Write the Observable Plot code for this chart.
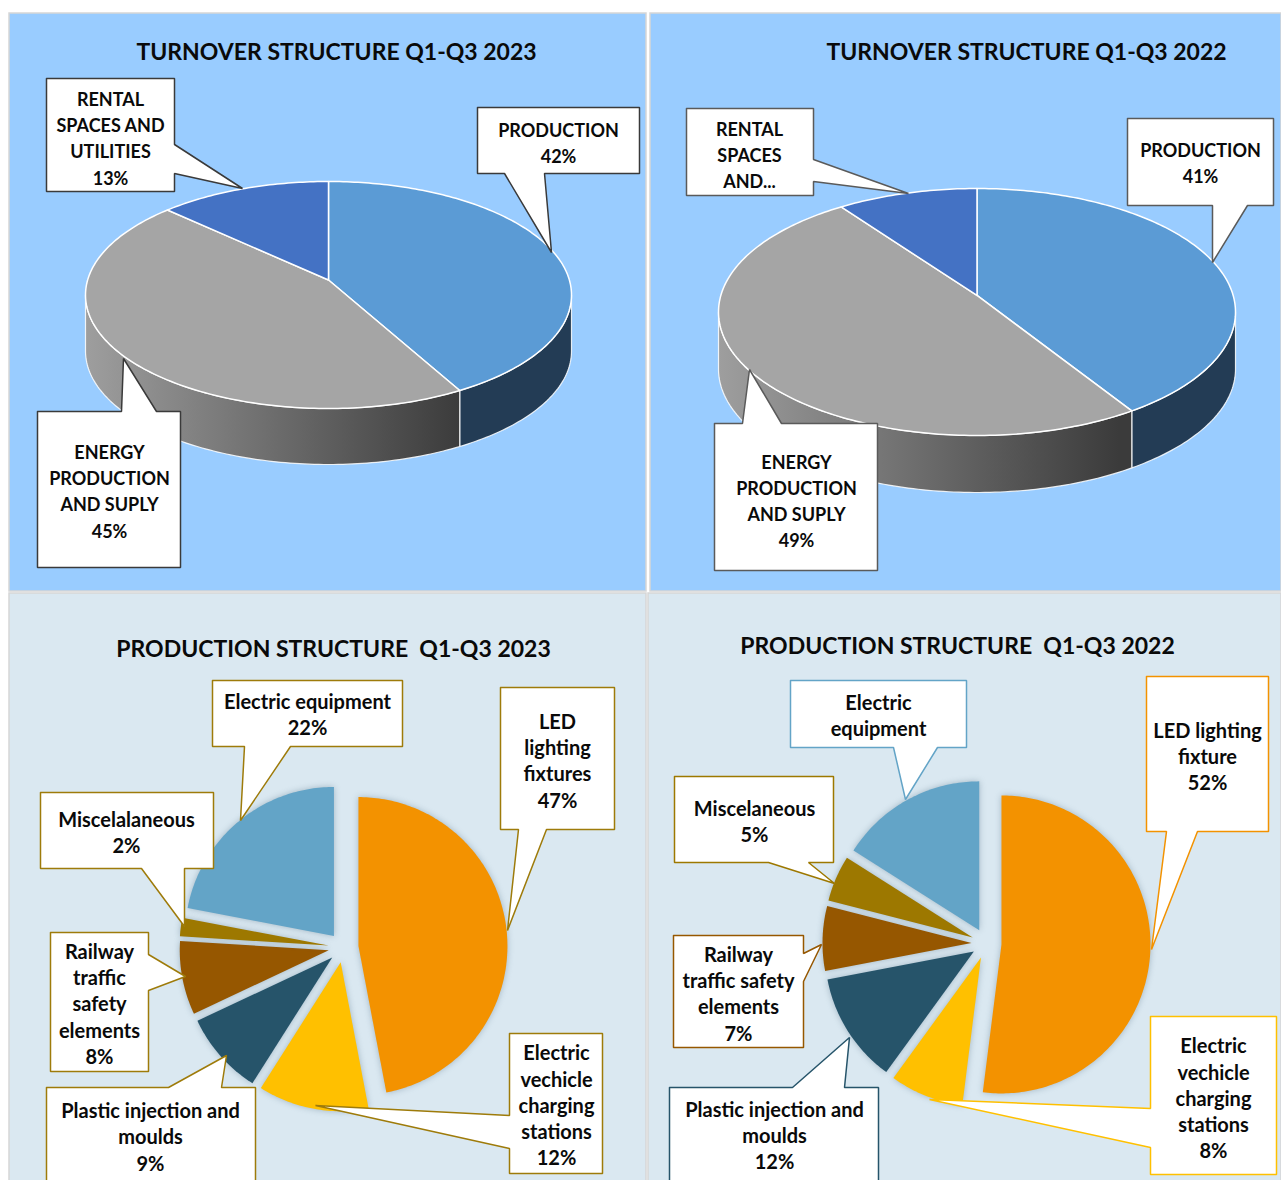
<!DOCTYPE html>
<html>
<head>
<meta charset="utf-8">
<script src="https://cdn.jsdelivr.net/npm/d3@7"></script>
<script src="https://cdn.jsdelivr.net/npm/@observablehq/plot@0.6"></script>
<style>
  html, body { margin: 0; padding: 0; background: #ffffff; }
  #chart svg { display: block; overflow: hidden; }
</style>
</head>
<body>
<div id="chart"></div>
<script>
// ---------------- DATA ----------------
const turnoverCategories = ["PRODUCTION", "ENERGY PRODUCTION AND SUPLY", "RENTAL SPACES AND UTILITIES"];
const turnoverShares2023 = [42, 45, 13];
const turnoverShares2022 = [41, 49, 10];
const turnoverLabelNames2023 = ["PRODUCTION", "ENERGY\nPRODUCTION\nAND SUPLY", "RENTAL\nSPACES AND\nUTILITIES"];
const turnoverLabelNames2022 = ["PRODUCTION", "ENERGY\nPRODUCTION\nAND SUPLY", "RENTAL\nSPACES\nAND..."];
const turnoverShowPct2023 = [true, true, true];
const turnoverShowPct2022 = [true, true, false];
const turnoverColors = ["#5B9BD5", "#A5A5A5", "#4472C4"];

const productionCategories = ["LED lighting fixtures", "Electric vechicle charging stations", "Plastic injection and moulds", "Railway traffic safety elements", "Miscelaneous", "Electric equipment"];
const productionShares2023 = [47, 12, 9, 8, 2, 22];
const productionShares2022 = [52, 8, 12, 7, 5, 16];
const productionLabelNames2023 = ["LED\nlighting\nfixtures", "Electric\nvechicle\ncharging\nstations", "Plastic injection and\nmoulds", "Railway\ntraffic\nsafety\nelements", "Miscelalaneous", "Electric equipment"];
const productionLabelNames2022 = ["LED lighting\nfixture", "Electric\nvechicle\ncharging\nstations", "Plastic injection and\nmoulds", "Railway\ntraffic safety\nelements", "Miscelaneous", "Electric\nequipment"];
const productionShowPct2023 = [true, true, true, true, true, true];
const productionShowPct2022 = [true, true, true, true, true, false];
const productionColors = ["#F39200", "#FFC000", "#26546A", "#965700", "#9D7800", "#63A4C7"];

const chartTitles = ["TURNOVER STRUCTURE Q1-Q3 2023", "TURNOVER STRUCTURE Q1-Q3 2022", "PRODUCTION STRUCTURE  Q1-Q3 2023", "PRODUCTION STRUCTURE  Q1-Q3 2022"];

// ---------------- LAYOUT ----------------
const W = 1281, H = 1180;
const panels = [
  {x1: 9, x2: 646, y1: 13, y2: 591, fill: "#99CCFF"},
  {x1: 650, x2: 1281, y1: 13, y2: 591, fill: "#99CCFF"},
  {x1: 9, x2: 646, y1: 593, y2: 1182, fill: "#DAE8F1"},
  {x1: 648, x2: 1281, y1: 593, y2: 1182, fill: "#DAE8F1"}
];
const titlePos = [[336, 52], [1026, 52], [333, 649], [957, 646]];

// 3D pies: center, radii, perspective shift, depth, side colours
const pie3DLayout = [
  {cx: 328, cy: 294.5, rx: 243, ry: 113.5, beta: -0.132, depth: 56, gid: "gradTL", side: ["#233C55", "url(#gradTL)", "#2F5597"]},
  {cx: 976.5, cy: 311.5, rx: 258.5, ry: 123.5, beta: -0.134, depth: 57, gid: "gradTR", side: ["#233C55", "url(#gradTR)", "#2F5597"]}
];
// 2D exploded pies
const pie2DLayout = [
  {cx: 343, cy: 947, r: 149, explode: 15},
  {cx: 986, cy: 943, r: 149, explode: 15}
];

// callouts: box [x1,y1,x2,y2], wedge side + base positions + tip, text centre
const calloutsTL = [
  {box: [477, 107, 639, 173], side: "bottom", a: 504, b: 544, tip: [551, 252], tc: [558, 141.5]},
  {box: [37, 411, 180, 567], side: "top", a: 121, b: 156, tip: [123, 358], tc: [109, 489.5]},
  {box: [46, 78, 174, 191], side: "right", a: 144, b: 173, tip: [242, 188], tc: [110, 136.5]}
];
const calloutsTR = [
  {box: [1127, 118, 1273, 205], side: "bottom", a: 1212, b: 1247, tip: [1212, 262], tc: [1200, 161.5]},
  {box: [714, 423, 877, 570], side: "top", a: 742, b: 781, tip: [749, 369], tc: [796, 499]},
  {box: [686, 108, 813, 195], side: "right", a: 159, b: 181, tip: [908, 193], tc: [749, 153]}
];
const calloutsBL = [
  {box: [500, 687, 614, 829], side: "bottom", a: 518, b: 546, tip: [507, 930], tc: [557, 759.5]},
  {box: [509, 1033, 602, 1173], side: "left", a: 1115, b: 1148, tip: [315, 1105], tc: [556, 1104]},
  {box: [46, 1087, 255, 1186], side: "top", a: 168, b: 221, tip: [226, 1055], tc: [150, 1135.5]},
  {box: [50, 932, 148, 1071], side: "right", a: 954, b: 990, tip: [185, 976], tc: [99, 1002.5]},
  {box: [40, 792, 213, 868], side: "bottom", a: 141, b: 184, tip: [184, 926], tc: [126, 831.5]},
  {box: [212, 680, 402, 746], side: "bottom", a: 244, b: 290, tip: [240, 820], tc: [307, 713.5]}
];
const calloutsBR = [
  {box: [1146, 676, 1268, 831], side: "bottom", a: 1166, b: 1197, tip: [1151, 949], tc: [1207, 755]},
  {box: [1150, 1016, 1276, 1174], side: "left", a: 1108, b: 1147, tip: [929, 1099], tc: [1213, 1097]},
  {box: [669, 1087, 878, 1186], side: "top", a: 792, b: 844, tip: [849, 1037], tc: [774, 1134]},
  {box: [673, 935, 803, 1047], side: "right", a: 953, b: 981, tip: [821, 944], tc: [738, 992.5]},
  {box: [674, 776, 833, 862], side: "bottom", a: 768, b: 808, tip: [834, 883], tc: [754, 820]},
  {box: [790, 680, 966, 747], side: "bottom", a: 893, b: 937, tip: [905, 799], tc: [878, 714.5]}
];
const strokeTL = "#3A3A3A", strokeTR = "#5A5A5A", strokeBL = "#9E7B0A";
const strokeBR = ["#F39200", "#FFC000", "#26546A", "#965700", "#9D7800", "#63A4C7"];

// ---------------- GEOMETRY HELPERS ----------------
const TAU = Math.PI * 2;
function sliceAngles(values) {
  const total = d3.sum(values);
  let acc = 0;
  return values.map(v => { const a0 = acc / total * TAU; acc += v; return [a0, acc / total * TAU]; });
}
function samples(a0, a1) {
  const n = Math.max(2, Math.ceil((a1 - a0) / (Math.PI / 180)));
  return d3.range(n + 1).map(i => a0 + (a1 - a0) * i / n);
}
function project3D(L, t) {
  const u = Math.sin(t), v = -Math.cos(t);
  const g = 1 / Math.sqrt(1 - L.beta * L.beta);
  const d = 1 + L.beta * v;
  return {x: L.cx + L.rx * u / (g * d), y: L.cy + L.ry * (v + L.beta) / d};
}
function pie3D(values, colors, L) {
  const ang = sliceAngles(values);
  const apex = {x: L.cx, y: L.cy + L.ry * L.beta};
  const t1 = Math.acos(L.beta), t2 = TAU - t1;
  const tops = [], walls = [];
  ang.forEach(([a0, a1], i) => {
    const pts = [apex, ...samples(a0, a1).map(t => project3D(L, t)), apex];
    tops.push({pts, fill: colors[i]});
    const s = Math.max(a0, t1), e = Math.min(a1, t2);
    if (e > s) {
      const top = samples(s, e).map(t => project3D(L, t));
      const bottom = top.map(p => ({x: p.x, y: p.y + L.depth})).reverse();
      walls.push({pts: [...top, ...bottom, top[0]], fill: L.side[i]});
    }
  });
  return {tops, walls};
}
function pie2D(values, colors, L) {
  return sliceAngles(values).map(([a0, a1], i) => {
    const m = (a0 + a1) / 2;
    const ox = L.cx + L.explode * Math.sin(m), oy = L.cy - L.explode * Math.cos(m);
    const o = {x: ox, y: oy};
    const pts = [o, ...samples(a0, a1).map(t => ({x: ox + L.r * Math.sin(t), y: oy - L.r * Math.cos(t)})), o];
    return {pts, fill: colors[i]};
  });
}
function calloutShape(c) {
  const [x1, y1, x2, y2] = c.box;
  const tip = {x: c.tip[0], y: c.tip[1]};
  const p = [{x: x1, y: y1}];
  if (c.side === "top") p.push({x: c.a, y: y1}, tip, {x: c.b, y: y1});
  p.push({x: x2, y: y1});
  if (c.side === "right") p.push({x: x2, y: c.a}, tip, {x: x2, y: c.b});
  p.push({x: x2, y: y2});
  if (c.side === "bottom") p.push({x: c.b, y: y2}, tip, {x: c.a, y: y2});
  p.push({x: x1, y: y2});
  if (c.side === "left") p.push({x: x1, y: c.b}, tip, {x: x1, y: c.a});
  p.push({x: x1, y: y1});
  return p;
}
function labelText(names, values, show) {
  return names.map((n, i) => show[i] ? `${n}\n${values[i]}%` : n);
}

// ---------------- MARKS ----------------
const marks = [];
marks.push(Plot.rect(panels, {x1: "x1", x2: "x2", y1: "y1", y2: "y2", fill: "fill", stroke: "#D6D6D6", strokeWidth: 1.5}));

marks.push(Plot.text(chartTitles.map((t, i) => ({t, x: titlePos[i][0], y: titlePos[i][1]})),
  {x: "x", y: "y", text: "t", fontSize: 23, fontWeight: "bold", fill: "#0a0a0a"}));

// 3D pies
[[turnoverShares2023, pie3DLayout[0]], [turnoverShares2022, pie3DLayout[1]]].forEach(([vals, L]) => {
  const {tops, walls} = pie3D(vals, turnoverColors, L);
  walls.forEach(w => marks.push(Plot.line(w.pts, {x: "x", y: "y", fill: w.fill, stroke: "#ffffff", strokeWidth: 1.2, strokeOpacity: 0.85})));
  tops.forEach(s => marks.push(Plot.line(s.pts, {x: "x", y: "y", fill: s.fill, stroke: "#ffffff", strokeWidth: 1.5})));
});

// 2D exploded pies
[[productionShares2023, pie2DLayout[0]], [productionShares2022, pie2DLayout[1]]].forEach(([vals, L]) => {
  pie2D(vals, productionColors, L).forEach(s =>
    marks.push(Plot.line(s.pts, {x: "x", y: "y", fill: s.fill})));
});

// callouts
function addCallouts(list, strokes, texts, fontSize, lineHeight) {
  list.forEach((c, i) => {
    marks.push(Plot.line(calloutShape(c), {x: "x", y: "y", fill: "#ffffff", stroke: strokes[i], strokeWidth: 1.5, strokeLinejoin: "miter", curve: "linear"}));
  });
  marks.push(Plot.text(list.map((c, i) => ({x: c.tc[0], y: c.tc[1], t: texts[i]})),
    {x: "x", y: "y", text: "t", fontSize, fontWeight: "bold", lineHeight, fill: "#0a0a0a"}));
}
addCallouts(calloutsTL, calloutsTL.map(() => strokeTL), labelText(turnoverLabelNames2023, turnoverShares2023, turnoverShowPct2023), 18, 1.45);
addCallouts(calloutsTR, calloutsTR.map(() => strokeTR), labelText(turnoverLabelNames2022, turnoverShares2022, turnoverShowPct2022), 18, 1.45);
addCallouts(calloutsBL, calloutsBL.map(() => strokeBL), labelText(productionLabelNames2023, productionShares2023, productionShowPct2023), 20, 1.31);
addCallouts(calloutsBR, strokeBR, labelText(productionLabelNames2022, productionShares2022, productionShowPct2022), 20, 1.31);

const chart = Plot.plot({
  width: W, height: H,
  margin: 0,
  x: {domain: [0, W], range: [0, W], axis: null},
  y: {domain: [0, H], range: [0, H], axis: null},
  style: {fontFamily: "Lato, 'Open Sans', sans-serif", background: "#ffffff"},
  marks
});

// side-wall gradients for the energy slice, placed with the plot's x scale
const xs = chart.scale("x");
const defs = d3.select(chart).insert("defs", ":first-child");
pie3DLayout.forEach(L => {
  const g = defs.append("linearGradient").attr("id", L.gid).attr("gradientUnits", "userSpaceOnUse")
    .attr("x1", xs.apply(L.cx - L.rx)).attr("x2", xs.apply(L.cx + L.rx * 0.55)).attr("y1", 0).attr("y2", 0);
  g.append("stop").attr("offset", 0).attr("stop-color", "#9E9E9E");
  g.append("stop").attr("offset", 1).attr("stop-color", "#3B3B3B");
});
// soft glow around the exploded 2D slices
d3.select(chart).selectAll("g")
  .filter(function () { return productionColors.includes(this.getAttribute("fill")) && !this.getAttribute("stroke"); })
  .style("filter", "drop-shadow(0px 0px 3px rgba(90, 120, 140, 0.45))");

document.getElementById("chart").appendChild(chart);
</script>
</body>
</html>
